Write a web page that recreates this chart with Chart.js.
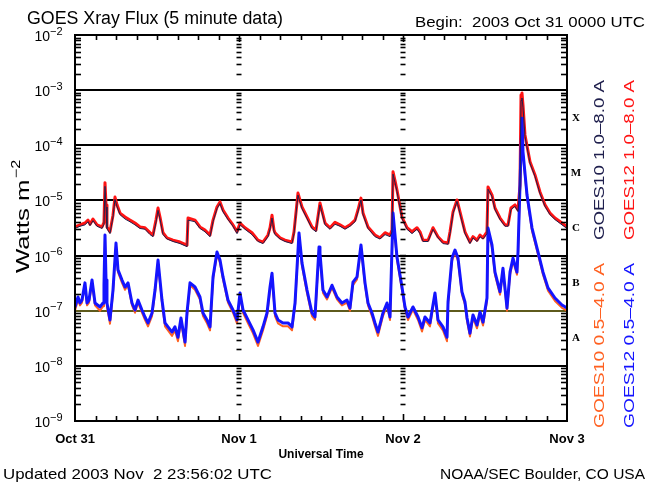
<!DOCTYPE html>
<html><head><meta charset="utf-8">
<script src="https://cdn.jsdelivr.net/npm/chart.js@4.4.0/dist/chart.umd.min.js"></script>
<style>html,body{margin:0;padding:0;background:#fff;}canvas{display:block}</style>
</head><body>
<canvas id="c" width="647" height="485"></canvas>
<script>
// ---- data (hours since 2003 Oct 31 00:00 UTC, flux in W m^-2) ----
const longHours = [0,0.73,1.46,1.9,2.2,2.63,3.22,3.95,4.24,4.39,4.54,4.68,5.12,5.56,5.85,6.15,6.59,7.32,8.05,8.78,9.51,10.24,10.98,11.41,11.85,12.15,12.44,12.88,13.46,14.34,15.37,16.39,16.54,17.56,18.29,19.02,19.76,20.2,20.78,21.22,21.66,22.39,23.12,23.71,24.15,24.88,25.9,26.78,27.51,28.24,28.54,28.83,29.12,29.27,30.0,30.73,31.76,32.05,32.63,33.22,33.95,34.68,35.27,35.85,36.59,37.32,38.05,38.78,39.51,40.24,40.98,41.41,41.85,42.15,42.88,43.9,44.63,45.37,46.1,46.39,46.54,46.83,47.12,47.85,48.59,49.32,50.05,50.49,50.93,51.66,52.39,53.12,53.85,54.59,54.88,55.32,55.9,56.34,57.07,57.8,58.24,58.83,59.27,59.71,60.29,60.44,61.02,61.46,62.2,62.93,63.37,63.8,64.39,64.83,65.12,65.27,65.41,65.56,65.85,66.59,67.32,68.05,68.78,69.51,70.24,71.27,72.0];
const goes12Long = [3.3e-6,3.6e-6,3.9e-6,4.4e-6,3.7e-6,4.6e-6,3.6e-6,3.3e-6,4.0e-6,2.1e-5,8.3e-6,3.3e-6,2.7e-6,5.4e-6,1.15e-5,8.3e-6,5.9e-6,5.0e-6,4.4e-6,3.9e-6,3.3e-6,3.2e-6,2.6e-6,2.36e-6,4.4e-6,7.3e-6,5.0e-6,2.6e-6,2.1e-6,1.9e-6,1.76e-6,1.55e-6,4.8e-6,4.4e-6,3.3e-6,2.9e-6,2.36e-6,4.4e-6,7.6e-6,9.4e-6,6.7e-6,4.8e-6,3.6e-6,2.7e-6,3.9e-6,3.2e-6,2.6e-6,1.9e-6,1.76e-6,2.36e-6,3.2e-6,5.4e-6,2.9e-6,2.6e-6,2.1e-6,1.9e-6,1.76e-6,2.7e-6,1.36e-5,7.6e-6,5.0e-6,3.3e-6,2.9e-6,9.0e-6,3.9e-6,3.2e-6,4.0e-6,3.6e-6,3.2e-6,3.6e-6,4.4e-6,6.7e-6,1.1e-5,5.9e-6,3.3e-6,2.36e-6,2.1e-6,2.6e-6,2.36e-6,2.9e-6,3.3e-5,2.3e-5,1.55e-5,5.0e-6,3.2e-6,2.7e-6,3.2e-6,2.7e-6,1.9e-6,1.9e-6,3.2e-6,2.2e-6,1.76e-6,1.7e-6,2.7e-6,6.2e-6,1.02e-5,6.2e-6,2.7e-6,1.76e-6,2.2e-6,1.9e-6,2.36e-6,2.1e-6,2.7e-6,1.75e-5,1.26e-5,7.3e-6,4.8e-6,3.6e-6,3.6e-6,7.3e-6,8.3e-6,6.7e-6,1.9e-5,8.2e-4,8.9e-4,5.4e-4,1.54e-4,5.0e-5,2.9e-5,1.42e-5,8.3e-6,5.9e-6,4.8e-6,3.9e-6,3.3e-6];
const goes10Long = [3.1e-6,3.4e-6,3.6e-6,4.1e-6,3.5e-6,4.3e-6,3.4e-6,3.1e-6,3.7e-6,1.8e-5,7.6e-6,3.1e-6,2.5e-6,5.0e-6,1.05e-5,7.7e-6,5.5e-6,4.6e-6,4.1e-6,3.6e-6,3.1e-6,3.0e-6,2.4e-6,2.2e-6,4.0e-6,6.6e-6,4.6e-6,2.4e-6,2.0e-6,1.8e-6,1.65e-6,1.45e-6,4.4e-6,4.1e-6,3.1e-6,2.7e-6,2.2e-6,4.1e-6,7.1e-6,8.8e-6,6.2e-6,4.5e-6,3.4e-6,2.5e-6,3.6e-6,3.0e-6,2.4e-6,1.8e-6,1.65e-6,2.2e-6,3.0e-6,4.8e-6,2.7e-6,2.4e-6,2.0e-6,1.8e-6,1.65e-6,2.5e-6,1.25e-5,7.1e-6,4.7e-6,3.1e-6,2.7e-6,8.3e-6,3.6e-6,3.0e-6,3.7e-6,3.4e-6,3.0e-6,3.4e-6,4.1e-6,6.2e-6,1.02e-5,5.5e-6,3.1e-6,2.2e-6,2.0e-6,2.4e-6,2.2e-6,2.7e-6,3.0e-5,2.1e-5,1.45e-5,4.7e-6,3.0e-6,2.5e-6,3.0e-6,2.5e-6,1.8e-6,1.8e-6,3.0e-6,2.1e-6,1.65e-6,1.6e-6,2.5e-6,5.8e-6,9.6e-6,5.8e-6,2.5e-6,1.65e-6,2.1e-6,1.8e-6,2.2e-6,2.0e-6,2.5e-6,1.6e-5,1.18e-5,6.8e-6,4.5e-6,3.4e-6,3.4e-6,6.8e-6,7.8e-6,6.3e-6,1.6e-5,6.5e-4,7.2e-4,4.9e-4,1.45e-4,4.7e-5,2.7e-5,1.33e-5,7.8e-6,5.5e-6,4.5e-6,3.6e-6,3.1e-6];
const shortHours = [0,0.44,0.73,1.02,1.46,1.76,2.05,2.49,2.93,3.66,4.10,4.24,4.39,4.54,4.68,5.12,5.56,6.0,6.29,6.88,7.32,7.76,8.34,8.78,9.22,9.8,10.24,10.68,11.27,11.71,12.15,12.44,12.73,13.17,13.61,14.2,14.63,15.07,15.51,15.8,16.1,16.39,16.83,17.56,18.29,18.73,19.32,19.76,20.2,20.78,21.22,21.66,22.39,23.12,23.71,24.15,24.59,25.32,26.05,26.78,27.51,28.1,28.54,28.83,29.27,29.71,30.44,31.17,31.76,32.2,32.78,33.22,33.95,34.68,35.12,35.71,35.85,36.29,36.88,37.61,38.34,39.07,39.8,40.24,40.68,41.27,41.85,42.44,42.88,43.46,43.9,44.34,45.07,45.66,46.1,46.54,47.12,47.85,48.29,48.73,49.46,50.2,50.78,51.22,51.95,52.68,53.12,53.85,54.44,54.59,55.17,55.61,56.05,56.63,57.07,57.37,57.8,58.24,58.83,59.27,59.71,60.29,60.44,61.02,61.46,62.2,62.63,63.22,63.66,64.1,64.68,64.83,65.12,65.41,65.56,66.15,66.88,67.76,68.49,69.22,70.24,71.27,72.0];
const goes12Short = [1.17e-7,1.77e-7,1.38e-7,1.56e-7,3.2e-7,1.38e-7,1.56e-7,3.6e-7,1.38e-7,1.17e-7,1.38e-7,2.9e-7,2.36e-6,3.6e-7,1.38e-7,6.8e-8,2.37e-7,1.69e-6,5.5e-7,3.6e-7,2.69e-7,3.2e-7,1.38e-7,1.03e-7,1.56e-7,1.03e-7,7.7e-8,6.0e-8,9.1e-8,2.37e-7,8.3e-7,3.6e-7,1.56e-7,6.0e-8,5.1e-8,4.1e-8,5.1e-8,3.3e-8,7.4e-8,4.5e-8,2.7e-8,9.1e-8,3.2e-7,2.69e-7,1.77e-7,9.1e-8,6.8e-8,5.1e-8,4.1e-7,1.16e-6,8.3e-7,4.1e-7,1.56e-7,1.03e-7,6.8e-8,2.1e-7,1.03e-7,6.8e-8,4.5e-8,2.7e-8,5.1e-8,9.1e-8,2.69e-7,4.8e-7,9.1e-8,6.8e-8,6.0e-8,6.0e-8,5.1e-8,1.38e-7,2.57e-6,7.3e-7,2.37e-7,9.1e-8,7.7e-8,1.43e-6,1.11e-6,2.37e-7,1.77e-7,2.9e-7,1.77e-7,1.38e-7,1.56e-7,1.12e-7,3.3e-7,4.1e-7,1.56e-6,3.2e-7,1.38e-7,9.1e-8,6.0e-8,4.1e-8,9.1e-8,1.38e-7,7.7e-8,5.9e-6,9.4e-7,2.69e-7,1.17e-7,7.7e-8,1.17e-7,7.7e-8,4.9e-8,7.7e-8,6.0e-8,2.1e-7,6.8e-8,5.1e-8,3.3e-8,1.44e-7,9.0e-7,1.26e-6,9.0e-7,2.2e-7,1.44e-7,7.4e-8,3.9e-8,8.4e-8,5.5e-8,9.5e-8,6.2e-8,1.7e-7,3.16e-6,1.56e-6,5.0e-7,2.2e-7,5.9e-7,1.12e-7,5.0e-7,9.0e-7,5.0e-7,1.16e-6,1.9e-5,3.1e-4,7.6e-5,1.25e-5,3.16e-6,1.16e-6,5.0e-7,2.6e-7,1.7e-7,1.27e-7,1.12e-7];
const goes10Short = [1.0e-7,1.6e-7,1.25e-7,1.4e-7,2.9e-7,1.25e-7,1.4e-7,3.2e-7,1.25e-7,1.0e-7,1.2e-7,2.6e-7,2.1e-6,3.2e-7,1.2e-7,5.8e-8,2.1e-7,1.5e-6,5.0e-7,3.2e-7,2.4e-7,2.9e-7,1.25e-7,9.2e-8,1.4e-7,9.2e-8,6.8e-8,5.2e-8,8.0e-8,2.1e-7,7.4e-7,3.2e-7,1.4e-7,5.2e-8,4.4e-8,3.5e-8,4.4e-8,2.8e-8,6.4e-8,3.9e-8,2.3e-8,8.0e-8,2.9e-7,2.4e-7,1.6e-7,8.0e-8,5.9e-8,4.4e-8,3.7e-7,1.05e-6,7.4e-7,3.7e-7,1.4e-7,9.2e-8,5.9e-8,1.9e-7,9.2e-8,5.9e-8,3.9e-8,2.3e-8,4.4e-8,8.0e-8,2.4e-7,4.3e-7,8.0e-8,5.9e-8,5.2e-8,5.2e-8,4.4e-8,1.25e-7,2.3e-6,6.5e-7,2.1e-7,8.0e-8,6.8e-8,1.3e-6,1.0e-6,2.1e-7,1.6e-7,2.6e-7,1.6e-7,1.25e-7,1.4e-7,1.0e-7,2.9e-7,3.7e-7,1.4e-6,2.9e-7,1.25e-7,8.0e-8,5.2e-8,3.5e-8,8.0e-8,1.25e-7,6.8e-8,5.3e-6,8.4e-7,2.4e-7,1.05e-7,6.8e-8,1.05e-7,6.8e-8,4.2e-8,6.8e-8,5.2e-8,1.9e-7,5.9e-8,4.4e-8,2.8e-8,1.3e-7,8.0e-7,1.13e-6,8.0e-7,1.95e-7,1.3e-7,6.5e-8,3.4e-8,7.4e-8,4.8e-8,8.4e-8,5.4e-8,1.5e-7,2.8e-6,1.4e-6,4.5e-7,1.95e-7,5.3e-7,1.0e-7,4.5e-7,8.0e-7,4.5e-7,1.05e-6,1.7e-5,2.6e-4,6.8e-5,1.12e-5,2.8e-6,1.05e-6,4.5e-7,2.3e-7,1.5e-7,1.13e-7,1.0e-7];
const dayHours = [0, 24, 48, 72];
const dayLabels = ['Oct 31', 'Nov 1', 'Nov 2', 'Nov 3'];
const decadeExponents = [-2, -3, -4, -5, -6, -7, -8, -9];
const classLetters = ['X', 'M', 'C', 'B', 'A'];
const classCenters = [-3.5, -4.5, -5.5, -6.5, -7.5];
const seriesNames = ['GOES10 1.0\u20138.0 A', 'GOES12 1.0\u20138.0 A', 'GOES10 0.5\u20134.0 A', 'GOES12 0.5\u20134.0 A'];

const COL_G10L = '#20204e', COL_G12L = '#ff1414', COL_G10S = '#ff6020', COL_G12S = '#1414ff';
const pts = (xs, ys) => xs.map((h, i) => ({x: h, y: ys[i]}));
const FONT = '"Liberation Sans", Arial, sans-serif';

function fitText(ctx, text, x, y, width, font, align, color) {
  ctx.save();
  ctx.font = font; ctx.fillStyle = color || '#000';
  ctx.textAlign = 'left'; ctx.textBaseline = 'alphabetic';
  const m = ctx.measureText(text).width;
  const s = width / m;
  ctx.translate(x, y); ctx.scale(s, 1);
  const x0 = align === 'center' ? -m / 2 : align === 'right' ? -m : 0;
  ctx.fillText(text, x0, 0);
  ctx.restore();
}
function line(ctx, x1, y1, x2, y2) { ctx.beginPath(); ctx.moveTo(x1, y1); ctx.lineTo(x2, y2); ctx.stroke(); }

const decor = {
  id: 'decor',
  beforeDatasetsDraw(chart) {
    const {ctx, chartArea: a, scales: {y}} = chart;
    ctx.save();
    ctx.lineWidth = 2;
    decadeExponents.forEach(e => {
      if (e === -2 || e === -9) return;
      const py = Math.round(y.getPixelForValue(Math.pow(10, e)));
      ctx.strokeStyle = e === -7 ? '#5e5a1c' : '#000';
      line(ctx, a.left, py, a.right, py);
    });
    ctx.restore();
  },
  afterDatasetsDraw(chart) {
    const {ctx, chartArea: a, scales: {x, y}} = chart;
    ctx.save();
    ctx.strokeStyle = '#000'; ctx.fillStyle = '#000';
    ctx.lineWidth = 1.6;
    for (let e = -9; e <= -3; e++) {
      for (let k = 2; k <= 9; k++) {
        const py = Math.round(y.getPixelForValue(k * Math.pow(10, e))) + 0.5;
        line(ctx, a.left, py, a.left + 6, py);
        line(ctx, a.right - 6, py, a.right, py);
        [24, 48].forEach(h => { const px = x.getPixelForValue(h); line(ctx, px - 2.5, py, px + 2.5, py); });
      }
    }
    [24, 48].forEach(h => {
      const px = x.getPixelForValue(h);
      for (let e = -8; e <= -3; e++) { const py = y.getPixelForValue(Math.pow(10, e)); line(ctx, px - 3, py, px + 3, py); }
    });
    for (let h = 3; h < 72; h += 3) {
      const px = Math.round(x.getPixelForValue(h)) + 0.5;
      const len = h % 24 === 0 ? 7 : 5;
      line(ctx, px, a.bottom, px, a.bottom - len);
      line(ctx, px, a.top, px, a.top + len);
    }
    ctx.lineWidth = 2;
    ctx.strokeRect(a.left, a.top, a.right - a.left, a.bottom - a.top);

    decadeExponents.forEach(e => {
      const py = y.getPixelForValue(Math.pow(10, e));
      ctx.font = '14px ' + FONT; ctx.textAlign = 'right'; ctx.textBaseline = 'alphabetic';
      ctx.fillText('10', 50, py + 6);
      ctx.font = '11px ' + FONT; ctx.textAlign = 'left';
      ctx.fillText(String(e).replace('-', '\u2212'), 50, py - 0.5);
    });
    ctx.font = 'bold 13px ' + FONT; ctx.textAlign = 'center';
    dayHours.forEach((h, i) => ctx.fillText(dayLabels[i], x.getPixelForValue(h), 443));
    ctx.font = 'bold 12px ' + FONT;
    ctx.fillText('Universal Time', (a.left + a.right) / 2, 458);

    // y title rotated
    ctx.save();
    ctx.translate(29, 217); ctx.rotate(-Math.PI / 2);
    ctx.textAlign = 'left'; ctx.textBaseline = 'alphabetic';
    const f1 = '19px ' + FONT, f2 = '12px ' + FONT;
    ctx.font = f1; const t1 = 'Watts m', w1 = ctx.measureText(t1).width;
    ctx.font = f2; const t2 = '\u22122', w2 = ctx.measureText(t2).width;
    const sx = 112 / (w1 + w2);
    ctx.scale(sx, 1);
    const start = -(w1 + w2) / 2;
    ctx.font = f1; ctx.fillText(t1, start, 0);
    ctx.font = f2; ctx.fillText(t2, start + w1 + 1, -9);
    ctx.restore();

    ctx.font = 'bold 11px "Liberation Serif", serif'; ctx.textAlign = 'center'; ctx.textBaseline = 'middle';
    classLetters.forEach((c, i) => ctx.fillText(c, 576, y.getPixelForValue(Math.pow(10, classCenters[i]))));
    ctx.restore();

    fitText(ctx, 'GOES Xray Flux (5 minute data)', 27, 24, 256, '18px ' + FONT, 'left');
    fitText(ctx, 'Begin:  2003 Oct 31 0000 UTC', 415, 27, 230, '14px ' + FONT, 'left');
    fitText(ctx, 'Updated 2003 Nov  2 23:56:02 UTC', 3, 479, 269, '15px ' + FONT, 'left');
    fitText(ctx, 'NOAA/SEC Boulder, CO USA', 645, 479, 205, '15px ' + FONT, 'right');

    const legend = [
      [seriesNames[0], 604, 240, 160, COL_G10L],
      [seriesNames[1], 634, 240, 160, COL_G12L],
      [seriesNames[2], 604, 428, 165, COL_G10S],
      [seriesNames[3], 634, 428, 165, COL_G12S]
    ];
    legend.forEach(([t, lx, ly, w, c]) => {
      ctx.save(); ctx.translate(lx, ly); ctx.rotate(-Math.PI / 2);
      fitText(ctx, t, 0, 0, w, '15px ' + FONT, 'left', c);
      ctx.restore();
    });
  }
};

new Chart(document.getElementById('c'), {
  type: 'line',
  data: {
    datasets: [
      {label: seriesNames[0], data: pts(longHours, goes10Long), borderColor: COL_G10L, borderWidth: 1, order: 0},
      {label: seriesNames[3], data: pts(shortHours, goes12Short), borderColor: COL_G12S, borderWidth: 3, order: 1},
      {label: seriesNames[2], data: pts(shortHours, goes10Short), borderColor: COL_G10S, borderWidth: 2, order: 2},
      {label: seriesNames[1], data: pts(longHours, goes12Long), borderColor: COL_G12L, borderWidth: 3, order: 3}
    ]
  },
  options: {
    responsive: false, animation: false, devicePixelRatio: 1,
    layout: {padding: {left: 75, right: 80, top: 35, bottom: 64}},
    elements: {point: {radius: 0}, line: {tension: 0, borderJoinStyle: 'round'}},
    scales: {
      x: {type: 'linear', min: 0, max: 72, display: false},
      y: {type: 'logarithmic', min: 1e-9, max: 1e-2, display: false}
    },
    plugins: {legend: {display: false}, tooltip: {enabled: false}, title: {display: false}}
  },
  plugins: [decor]
});
</script>
</body></html>
